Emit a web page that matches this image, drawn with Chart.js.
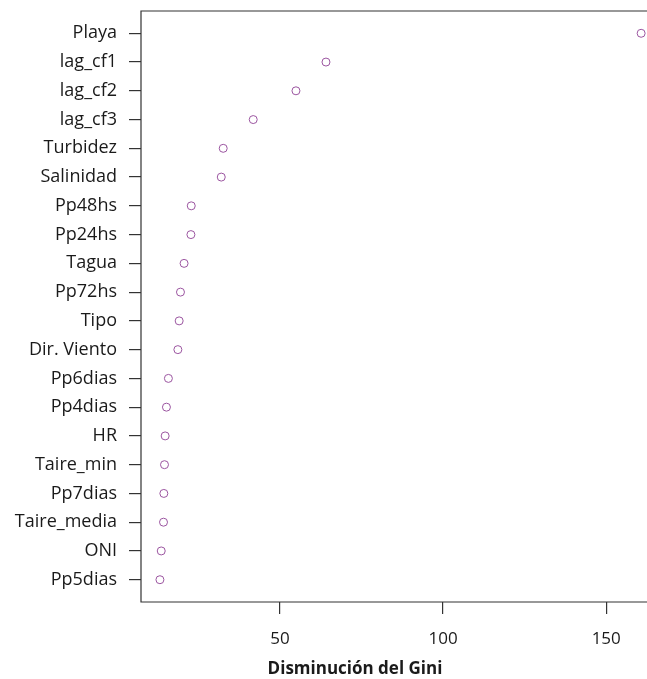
<!DOCTYPE html>
<html>
<head>
<meta charset="utf-8">
<script src="https://cdn.jsdelivr.net/npm/chart.js@4"></script>
<style>
  html, body { margin: 0; padding: 0; background: #fff; overflow: hidden; }
  /* plot box runs past the right edge of the window, as in the original */
  #wrap { width: 652px; height: 679px; }
</style>
</head>
<body>
<div id="wrap"><canvas id="gini"></canvas></div>
<script>
// variables, ordered top to bottom as in the dot chart
const variables = ['Playa', 'lag_cf1', 'lag_cf2', 'lag_cf3', 'Turbidez', 'Salinidad',
  'Pp48hs', 'Pp24hs', 'Tagua', 'Pp72hs', 'Tipo', 'Dir. Viento', 'Pp6dias', 'Pp4dias',
  'HR', 'Taire_min', 'Pp7dias', 'Taire_media', 'ONI', 'Pp5dias'];
const giniDecrease = [160.7, 64.1, 54.9, 41.8, 32.6, 32.0,
  22.8, 22.7, 20.6, 19.5, 19.1, 18.7, 15.8, 15.2,
  14.8, 14.6, 14.4, 14.3, 13.6, 13.2];
const xTicks = [50, 100, 150];

const FONT = '"Open Sans", Lato, sans-serif';
const INK = '#1a1a1a';
const AXIS = '#333333';

// box round the plot (right side falls off the window) + bottom title
const frame = {
  id: 'frame',
  afterDraw(chart) {
    const { ctx, chartArea: a } = chart;
    ctx.save();
    ctx.strokeStyle = AXIS;
    ctx.lineWidth = 1.2;
    ctx.beginPath();
    ctx.moveTo(a.right + 1, a.top);
    ctx.lineTo(a.left, a.top);
    ctx.lineTo(a.left, a.bottom);
    ctx.lineTo(a.right + 1, a.bottom);
    ctx.stroke();
    ctx.fillStyle = INK;
    ctx.font = 'bold 17px ' + FONT;
    ctx.textAlign = 'center';
    ctx.textBaseline = 'middle';
    ctx.fillText('Disminución del Gini', 355, 669);
    ctx.restore();
  }
};

const noPad = s => { s.paddingTop = 0; s.paddingBottom = 0; s.paddingLeft = 0; s.paddingRight = 0; };

new Chart(document.getElementById('gini'), {
  type: 'scatter',
  data: {
    datasets: [{
      data: giniDecrease.map((v, i) => ({ x: v, y: i + 1 })),
      pointStyle: 'circle',
      pointRadius: 4,
      pointBorderWidth: 1,
      pointBorderColor: '#9b55a0',
      pointBackgroundColor: 'rgba(0,0,0,0)'
    }]
  },
  options: {
    responsive: true,
    maintainAspectRatio: false,
    animation: false,
    layout: { padding: { top: 11, right: 0, left: 0, bottom: 0 } },
    plugins: { legend: { display: false }, tooltip: { enabled: false } },
    scales: {
      x: {
        type: 'linear',
        min: 7.4,
        max: 162.5,
        afterBuildTicks: s => { s.ticks = xTicks.map(v => ({ value: v })); },
        afterFit: s => { s.height = 77; noPad(s); },
        grid: { drawOnChartArea: false, tickLength: 12, color: AXIS, lineWidth: 1.2 },
        border: { display: false },
        ticks: { color: INK, padding: 15, maxRotation: 0, font: { family: FONT, size: 17 } }
      },
      y: {
        type: 'linear',
        reverse: true,
        min: 0.225,
        max: variables.length + 0.775,
        afterBuildTicks: s => { s.ticks = variables.map((_, i) => ({ value: i + 1 })); },
        afterFit: s => { s.width = 141; noPad(s); },
        grid: { drawOnChartArea: false, tickLength: 12, color: AXIS, lineWidth: 1.2 },
        border: { display: false },
        ticks: {
          color: INK,
          padding: 12,
          autoSkip: false,
          font: { family: FONT, size: 18 },
          callback: v => variables[v - 1]
        }
      }
    }
  },
  plugins: [frame]
});
</script>
</body>
</html>
